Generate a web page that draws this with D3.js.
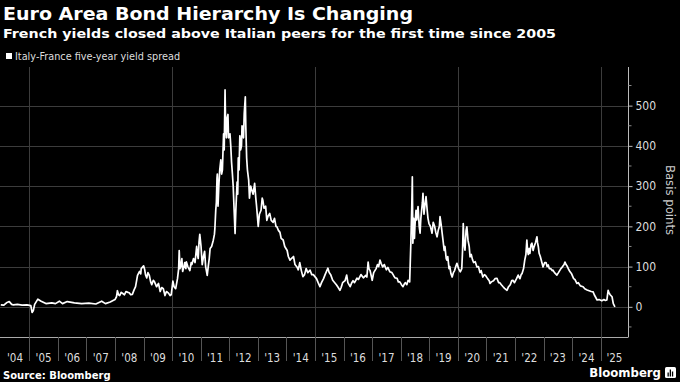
<!DOCTYPE html>
<html><head><meta charset="utf-8">
<script src="https://cdn.jsdelivr.net/npm/d3@7"></script>
<style>
html,body{margin:0;padding:0;background:#000;}
svg{display:block;}
</style></head>
<body>
<div id="chart"></div>
<script>
const title = "Euro Area Bond Hierarchy Is Changing";
const subtitle = "French yields closed above Italian peers for the first time since 2005";
const legendLabel = "Italy-France five-year yield spread";
const yTicks = [0, 100, 200, 300, 400, 500];
const yMinorTicks = [-50, 50, 150, 250, 350, 450, 550];
const yearLabels = ["'04","'05","'06","'07","'08","'09","'10","'11","'12","'13","'14","'15","'16","'17","'18","'19","'20","'21","'22","'23","'24","'25"];
const gridYears = [2005, 2010, 2015, 2020, 2025];

const dates = [
// 2004-2007
"2004-01-02","2004-02-10","2004-03-15","2004-04-20","2004-05-20","2004-06-10","2004-08-01","2004-10-01","2004-12-01","2005-01-20","2005-02-05","2005-02-20","2005-03-10","2005-04-20","2005-06-01","2005-08-01","2005-10-15","2005-12-01",
"2006-01-20","2006-03-01","2006-05-01","2006-08-01","2006-11-01","2007-02-01","2007-05-01","2007-07-15","2007-09-01","2007-11-01",
// 2008-2009
"2008-01-01","2008-01-20","2008-02-01","2008-02-15","2008-03-01","2008-03-20","2008-04-10","2008-05-01","2008-05-20","2008-06-15","2008-07-01","2008-07-20","2008-08-10","2008-09-01","2008-09-20","2008-10-15","2008-11-10","2008-11-25","2008-12-01",
"2009-01-01","2009-01-15","2009-01-25","2009-02-10","2009-02-25","2009-03-15","2009-04-01","2009-04-15","2009-05-05","2009-05-20","2009-06-15","2009-07-10","2009-08-01","2009-08-20","2009-09-10","2009-10-01","2009-10-20","2009-11-15","2009-12-05","2009-12-20",
// 2010-2011
"2010-01-10","2010-01-25","2010-02-15","2010-03-10","2010-03-25","2010-04-01","2010-04-10","2010-04-20","2010-05-05","2010-05-15","2010-06-01","2010-06-10","2010-06-25","2010-07-01","2010-07-20","2010-08-15","2010-09-01","2010-09-10","2010-10-01","2010-10-20","2010-11-10","2010-11-20","2010-11-30","2010-12-10","2010-12-20",
"2011-01-05","2011-01-20","2011-02-05","2011-02-20","2011-03-05","2011-03-25","2011-04-10","2011-04-20","2011-05-01","2011-05-20","2011-06-10","2011-06-25","2011-07-01","2011-07-12","2011-07-20","2011-07-28","2011-08-01","2011-08-10","2011-08-20","2011-09-01","2011-09-15","2011-09-25","2011-10-05","2011-10-20","2011-10-28","2011-11-08","2011-11-15","2011-11-25","2011-12-05","2011-12-15","2011-12-22",
// 2012-2014
"2012-01-10","2012-01-20","2012-01-30","2012-02-10","2012-02-20","2012-03-01","2012-03-15","2012-03-25","2012-04-10","2012-04-18","2012-04-25","2012-05-05","2012-05-15","2012-05-25","2012-06-05","2012-06-12","2012-06-20","2012-07-01","2012-07-10","2012-07-24","2012-07-30","2012-08-10","2012-08-20","2012-09-05","2012-09-15","2012-10-01","2012-10-15","2012-11-01","2012-11-20","2012-12-05","2012-12-15",
"2013-01-05","2013-01-20","2013-02-10","2013-02-25","2013-03-05","2013-03-20","2013-04-10","2013-04-25","2013-05-10","2013-06-01","2013-06-20","2013-07-15","2013-08-01","2013-08-20","2013-09-01","2013-09-20","2013-10-10","2013-10-25","2013-11-20","2013-12-10",
"2014-01-10","2014-01-25","2014-02-15","2014-03-05","2014-04-01","2014-04-20","2014-05-15","2014-06-01","2014-06-20","2014-07-10","2014-07-30","2014-08-20","2014-09-10","2014-10-01","2014-10-30","2014-11-20","2014-12-10",
// 2015-2017
"2015-01-20","2015-02-10","2015-03-05","2015-03-25","2015-04-20","2015-05-10","2015-06-15","2015-07-01","2015-07-20","2015-08-15","2015-09-10","2015-10-01","2015-10-25","2015-11-15","2015-12-01","2015-12-20",
"2016-01-20","2016-02-10","2016-02-25","2016-03-25","2016-04-15","2016-05-01","2016-05-20","2016-06-20","2016-07-10","2016-08-10","2016-09-10","2016-10-10","2016-10-25","2016-11-10","2016-11-20","2016-12-05",
"2017-01-01","2017-01-20","2017-02-20","2017-03-10","2017-03-25","2017-04-10","2017-04-25","2017-05-15","2017-06-05","2017-07-01","2017-07-20","2017-08-15","2017-09-10","2017-10-01","2017-10-20","2017-11-15","2017-12-01","2017-12-20",
// 2018
"2018-01-10","2018-01-30","2018-02-20","2018-03-01","2018-03-20","2018-04-05","2018-04-25","2018-05-10","2018-05-22","2018-05-29","2018-06-05","2018-06-15","2018-06-25","2018-07-01","2018-07-15","2018-07-25","2018-08-10","2018-08-25","2018-09-05","2018-09-15","2018-09-25","2018-10-05","2018-10-12","2018-10-25","2018-11-05","2018-11-20","2018-12-05","2018-12-15","2018-12-28",
// 2019-2021
"2019-01-15","2019-02-05","2019-02-20","2019-03-10","2019-03-25","2019-04-10","2019-04-25","2019-05-10","2019-05-18","2019-06-01","2019-06-10","2019-06-25","2019-07-10","2019-07-20","2019-08-05","2019-08-15","2019-08-25","2019-09-10","2019-09-20","2019-10-05","2019-10-20","2019-11-05","2019-11-20","2019-12-05","2019-12-20",
"2020-01-10","2020-02-01","2020-02-20","2020-03-01","2020-03-10","2020-03-18","2020-04-01","2020-04-15","2020-04-25","2020-05-10","2020-05-25","2020-06-05","2020-06-20","2020-07-05","2020-07-20","2020-08-10","2020-09-01","2020-09-20","2020-10-10","2020-10-25","2020-11-15","2020-12-05","2020-12-20",
"2021-01-15","2021-02-05","2021-02-15","2021-03-05","2021-04-01","2021-04-20","2021-05-15","2021-06-05","2021-06-20","2021-07-10","2021-08-01","2021-08-20","2021-09-20","2021-10-10","2021-11-01","2021-11-20","2021-12-05","2021-12-25",
// 2022-2025
"2022-01-20","2022-02-10","2022-02-25","2022-03-05","2022-03-20","2022-04-01","2022-04-20","2022-05-05","2022-05-20","2022-06-01","2022-06-10","2022-06-20","2022-07-01","2022-07-10","2022-07-25","2022-08-05","2022-08-20","2022-09-01","2022-09-20","2022-10-08","2022-10-15","2022-10-25","2022-11-05","2022-11-20","2022-12-10","2022-12-25",
"2023-01-15","2023-02-01","2023-02-15","2023-03-01","2023-03-15","2023-04-01","2023-04-20","2023-05-01","2023-05-20","2023-06-20","2023-07-10","2023-08-10","2023-09-01","2023-09-20","2023-10-01","2023-10-15","2023-11-01","2023-11-20","2023-12-05","2023-12-25",
"2024-01-20","2024-02-05","2024-03-01","2024-03-20","2024-04-15","2024-05-20","2024-06-10","2024-07-10","2024-08-05","2024-09-01","2024-09-25","2024-10-10","2024-11-15","2024-12-10",
"2025-01-15","2025-02-10","2025-03-01","2025-03-20","2025-04-05","2025-04-15","2025-05-01","2025-05-25","2025-06-10","2025-07-01"
];
const spread = [
// 2004-2007
5,4,10,13,6,5,6,4,5,3,-14,-10,6,19,14,8,10,8,
14,8,13,10,8,9,7,14,8,12,
// 2008-2009
18,25,40,30,28,36,33,30,38,36,35,30,31,42,50,78,88,82,95,
102,92,80,72,85,78,62,55,66,62,50,58,38,48,45,28,38,34,28,30,
// 2010-2011
64,50,45,70,95,140,95,100,120,88,100,110,95,112,100,90,110,105,120,110,150,130,120,160,180,
150,105,125,138,100,78,105,120,145,150,165,180,195,240,260,320,330,250,300,340,365,330,340,430,390,539,450,420,470,478,420,
// 2012-2014
430,400,360,330,300,250,182,240,310,280,370,340,425,390,400,450,445,420,480,522,450,370,340,315,270,300,290,280,307,270,250,
200,230,240,270,265,245,250,215,225,232,215,210,220,200,199,190,185,170,166,150,
140,125,116,120,125,105,99,92,110,90,75,80,95,85,91,80,80,
// 2015-2017
70,60,50,60,70,80,96,85,80,66,60,55,48,41,48,60,
65,79,60,50,60,65,60,71,68,80,72,78,74,111,95,90,
66,85,95,105,100,116,108,99,105,92,98,87,85,78,72,71,62,62,
// 2018
55,50,58,60,55,66,62,158,250,323,158,220,170,200,240,216,249,200,183,220,240,260,282,230,250,274,240,220,207,
// 2019-2021
200,183,210,200,185,174,190,200,224,205,190,166,140,150,120,116,125,95,100,82,74,85,90,100,108,
95,87,95,140,207,160,141,190,199,165,150,124,130,118,110,112,99,100,85,90,74,80,78,
70,65,58,62,65,70,71,60,60,55,50,46,41,50,55,65,66,60,
// 2022-2025
70,79,72,70,80,83,95,116,130,166,140,130,145,133,155,158,140,149,160,174,160,150,133,125,110,99,
110,110,100,104,95,95,90,91,85,79,85,95,100,105,111,105,100,92,87,82,
70,68,58,60,52,50,45,42,40,38,37,30,17,18,
15,18,16,17,41,35,30,25,8,0
];
if (dates.length !== spread.length) console.error("length mismatch", dates.length, spread.length);

const W = 680, H = 382;
const svg = d3.select("#chart").append("svg").attr("width", W).attr("height", H)
  .style("background", "#000");
svg.append("rect").attr("width", W).attr("height", H).attr("fill", "#000");

const parse = d3.timeParse("%Y-%m-%d");
const data = dates.map((d, i) => ({date: parse(d), value: spread[i]}));

const x = d3.scaleTime()
  .domain([new Date(2004, 0, 1), new Date(2025, 11, 15)])
  .range([0.7, 628]);
const y = d3.scaleLinear().domain([-75, 596]).range([337, 67]);

const plotL = 0, plotR = 628, plotT = 67, plotB = 337;
const narrow = "'DejaVu Sans Condensed','DejaVu Sans',sans-serif";

// horizontal gridlines
svg.append("g").selectAll("line").data(yTicks).join("line")
  .attr("x1", plotL).attr("x2", plotR)
  .attr("y1", d => Math.round(y(d)) + 0.5).attr("y2", d => Math.round(y(d)) + 0.5)
  .attr("stroke", "#3c3c3c").attr("stroke-width", 1);
// vertical gridlines
svg.append("g").selectAll("line").data(gridYears).join("line")
  .attr("x1", d => Math.round(x(new Date(d, 0, 1))) + 0.5)
  .attr("x2", d => Math.round(x(new Date(d, 0, 1))) + 0.5)
  .attr("y1", plotT).attr("y2", plotB)
  .attr("stroke", "#3c3c3c").attr("stroke-width", 1);

// line
const line = d3.line().x(d => x(d.date)).y(d => y(d.value)).curve(d3.curveLinear);
svg.append("path").datum(data).attr("d", line)
  .attr("fill", "none").attr("stroke", "#fff").attr("stroke-width", 1.7)
  .attr("stroke-linejoin", "round");

// right axis
const yAxis = d3.axisRight(y).tickValues(yTicks).tickSize(4).tickPadding(3);
const gy = svg.append("g").attr("transform", `translate(${plotR + 0.5},0)`).call(yAxis);
gy.select(".domain").attr("stroke", "#bbb").attr("d", `M0,${plotT}V${plotB}`);
gy.selectAll(".tick line").attr("stroke", "#bbb");
gy.selectAll(".tick text").attr("fill", "#ddd").attr("font-size", 12)
  .attr("font-family", narrow);
svg.append("g").attr("transform", `translate(${plotR + 0.5},0)`)
  .selectAll("line").data(yMinorTicks).join("line")
  .attr("x1", 0).attr("x2", 3).attr("y1", d => y(d)).attr("y2", d => y(d))
  .attr("stroke", "#888");

svg.append("text").attr("transform", `translate(666,${(plotT + plotB) / 2 - 2}) rotate(90)`)
  .attr("text-anchor", "middle").attr("fill", "#ccc").attr("font-size", 13)
  .attr("font-family", narrow)
  .text("Basis points");

// bottom axis
svg.append("line").attr("x1", plotL).attr("x2", plotR + 0.5).attr("y1", plotB + 0.5).attr("y2", plotB + 0.5)
  .attr("stroke", "#aaa");
const yearStarts = d3.range(2005, 2026).map(yr => new Date(yr, 0, 1));
svg.append("g").selectAll("line").data(yearStarts).join("line")
  .attr("x1", d => Math.round(x(d)) + 0.5).attr("x2", d => Math.round(x(d)) + 0.5)
  .attr("y1", plotB).attr("y2", 361).attr("stroke", "#555");
svg.append("g").selectAll("text").data(yearLabels).join("text")
  .attr("x", (d, i) => {
    const a = x(new Date(2004 + i, 0, 1));
    const b = Math.min(x(new Date(2005 + i, 0, 1)), plotR);
    return (a + b) / 2;
  })
  .attr("y", 362).attr("text-anchor", "middle").attr("fill", "#ddd").attr("font-size", 11.5)
  .attr("font-family", narrow)
  .text(d => d);

// titles
svg.append("text").attr("x", 3).attr("y", 19.5).attr("fill", "#fff")
  .attr("font-size", 17).attr("font-weight", "bold")
  .attr("textLength", 410).attr("lengthAdjust", "spacingAndGlyphs")
  .attr("font-family", "'DejaVu Sans',sans-serif").text(title);
svg.append("text").attr("x", 3).attr("y", 38).attr("fill", "#fff")
  .attr("font-size", 13).attr("font-weight", "bold")
  .attr("textLength", 553).attr("lengthAdjust", "spacingAndGlyphs")
  .attr("font-family", "'DejaVu Sans',sans-serif").text(subtitle);

// legend
svg.append("rect").attr("x", 6).attr("y", 53).attr("width", 6).attr("height", 6).attr("fill", "#fff");
svg.append("text").attr("x", 15).attr("y", 59.5).attr("fill", "#ddd")
  .attr("font-size", 10.8)
  .attr("font-family", narrow).text(legendLabel);

// footer
svg.append("text").attr("x", 3).attr("y", 379).attr("fill", "#fff")
  .attr("font-size", 10).attr("font-weight", "bold")
  .attr("font-family", "'DejaVu Sans',sans-serif").text("Source: Bloomberg");
svg.append("text").attr("x", 661).attr("y", 377).attr("text-anchor", "end").attr("fill", "#fff")
  .attr("font-size", 13).attr("font-weight", "bold")
  .attr("font-family", narrow).text("Bloomberg");
const logo = svg.append("g").attr("transform", "translate(665,367)");
logo.append("rect").attr("width", 11).attr("height", 11).attr("rx", 1.5).attr("fill", "#fff");
logo.selectAll("rect.bar").data([4, 7, 5]).join("rect").attr("class", "bar")
  .attr("x", (d, i) => 2.5 + i * 2.2).attr("y", d => 9.5 - d).attr("width", 1.3).attr("height", d => d)
  .attr("fill", "#000");
</script>
</body></html>
